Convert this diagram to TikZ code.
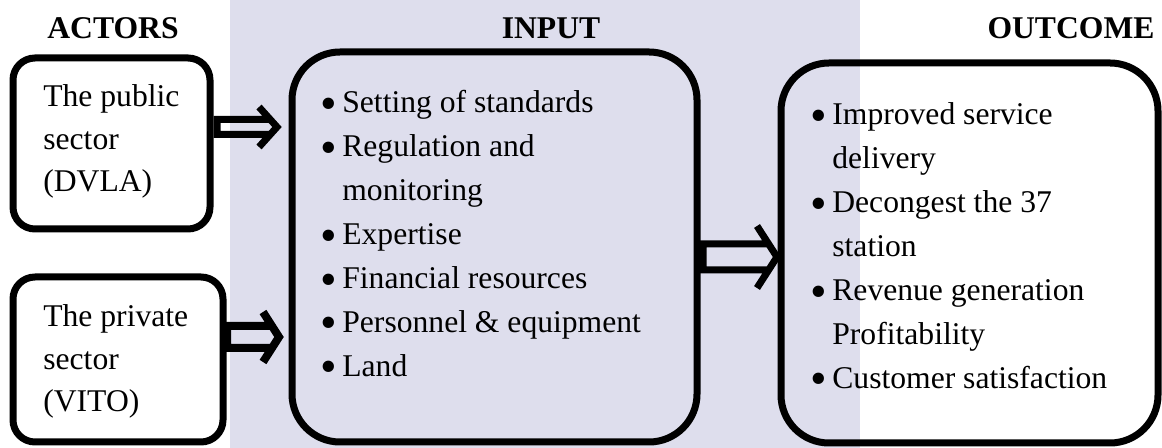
\documentclass[tikz,border=0pt]{standalone}
\usepackage{fontspec}
\setmainfont{Liberation Serif}
\usetikzlibrary{calc}

\newlength\pxu
\setlength\pxu{0.02cm}
\newcommand\blt{\makebox[22\pxu][l]{\raisebox{-0.2em}{\scalebox{1.5}{\textbullet}}}}

\begin{document}
\begin{tikzpicture}[x=0.02cm,y=-0.02cm,
  font=\fontsize{18}{25}\selectfont,
  box/.style={draw,line width=7\pxu,rounded corners=22\pxu,inner sep=0pt},
  bigbox/.style={box,rounded corners=48\pxu},
  title/.style={font=\fontsize{18}{22}\selectfont\bfseries,anchor=base},
  words/.style={anchor=base west,inner sep=0pt,align=left},
  % flow={half gap}{head length}{head half width}
  flow/.style n args={3}{draw,to path={
    ($(\tikztotarget)+({-#2*#1/#3},-#1)$) -- ($(\tikztostart)+(0,-#1)$)
      -- ($(\tikztostart)+(0,#1)$) -- ($(\tikztotarget)+({-#2*#1/#3},#1)$)
    ($(\tikztotarget)+(-#2,-#3)$) -- (\tikztotarget) -- ($(\tikztotarget)+(-#2,#3)$)}}]

\useasboundingbox (0,0) rectangle (1162,448);
\fill[blue!30!gray!20] (230,0) rectangle (860,448);

\node[title] (actors) at (113,39) {ACTORS};
\node[title] (input) at (551,39) {INPUT};
\node[title] (outcome) at (1071,39) {OUTCOME};

% actors
\node[box,minimum width=197\pxu,minimum height=171\pxu] (pub) at (111.5,143.5) {};
\node[box,minimum width=210\pxu,minimum height=165\pxu] (priv) at (118,359.5) {};
\node[words,font=\fontsize{18}{24}\selectfont] (pubtext) at (43,107)
  {\begin{tabular}[t]{@{}l@{}}The public\\ sector\\ (DVLA)\end{tabular}};
\node[words,font=\fontsize{18}{24}\selectfont] (privtext) at (43,327)
  {\begin{tabular}[t]{@{}l@{}}The private\\ sector\\ (VITO)\end{tabular}};

% input and outcome
\node[bigbox,minimum width=405\pxu,minimum height=390\pxu] (inp) at (494.5,247) {};
\node[bigbox,minimum width=377\pxu,minimum height=380\pxu] (out) at (969.5,253) {};
\node[words] (inptext) at (320,113)
  {\begin{tabular}[t]{@{}l@{}l@{}}
   \blt & Setting of standards\\
   \blt & Regulation and\\
        & monitoring\\
   \blt & Expertise\\
   \blt & Financial resources\\
   \blt & Personnel \& equipment\\
   \blt & Land
   \end{tabular}};
\node[words] (outtext) at (810,125)
  {\begin{tabular}[t]{@{}l@{}l@{}}
   \blt & Improved service\\
        & delivery\\
   \blt & Decongest the 37\\
        & station\\
   \blt & Revenue generation\\
        & Profitability\\
   \blt & Customer satisfaction
   \end{tabular}};

% arrows
\draw[line width=7\pxu] ([xshift=3.5\pxu]pub.east |- 0,127)
  to[flow={7.5}{18}{20}] ([xshift=-11.5\pxu]inp.west |- 0,127);
\draw[line width=8\pxu] ([xshift=0.5\pxu]priv.east |- 0,337)
  to[flow={11}{16}{25}] ([xshift=-9.5\pxu]inp.west |- 0,337);
\draw[line width=7\pxu] ([xshift=2.5\pxu]inp.east |- 0,257)
  to[flow={13}{20}{31}] ([xshift=-0.5\pxu]out.west |- 0,257);
\end{tikzpicture}
\end{document}
